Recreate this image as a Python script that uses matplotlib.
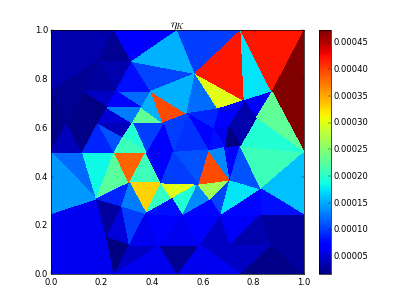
import matplotlib
matplotlib.use('Agg')
import matplotlib.pyplot as plt
from matplotlib.ticker import FormatStrFormatter

plt.style.use('classic')

names = ['c00','c10','c01','c11','l25','l50','l75','b25','b50','b75','r25','r50','t25','t50','t75',
         'B','C','E','F','G','H','I','J','K','L','M','S','T','U','V','W','X','Y','Z','AA',
         'AB','AC','AD','AE','AF','AG','AH','AI','AJ','AK','AL','AM','AN','AO','AP','AQ','AR',
         'N8','BA','BB','BD','BE','BF','BH','BI','BJ']
xs = [0,1,0,1,0,0,0,.25,.5,.75,1,1,.25,.5,.75,
      .187,.32,.125,.257,.395,.222,.358,.186,.322,.443,.063,.25,.375,.285,.125,.31,.18,.435,.375,.28,
      .58,.52,.707,.62,.63,.67,.685,.747,.478,.83,.83,.59,.71,.873,.43,.31,.22,
      .57,.537,.66,.763,.70,.64,.873,.81,.483]
ys = [0,0,1,1,.25,.5,.75,0,0,0,.245,.5,1,1,1,
      .872,.872,.75,.75,.75,.683,.683,.62,.62,.62,.62,.5,.5,.563,.5,.375,.31,.375,.25,.28,
      .37,.24,.387,.51,.305,.24,.525,.527,.31,.35,.245,.12,.12,.12,.12,.12,.15,
      .823,.658,.678,.712,.61,.597,.747,.64,.5]

tri_lower = ['c00 b25 AR','c00 l25 AR','l25 X AR','X AA AR','AA AQ AR','AR AQ b25','b25 AQ AP','b25 AP b50',
             'AP b50 AM','AA Z AQ','Z AP AQ','Z AC AP','AC AP AM','AC AG AM','AG AN AM','AM AN b75','b50 AM b75',
             'AG AL AN','AL AO AN','AN AO b75','b75 AO c10','AL r25 AO','r25 c10 AO']
val_lower = [6.2e-5,6.2e-5,6.2e-5,3.0e-5,5.3e-5,1.6e-5,4.3e-5,6.2e-5,
             2.4e-5,1.0e-4,6.2e-5,7.0e-5,6.2e-5,7.0e-5,4.3e-5,4.3e-5,6.2e-5,
             6.5e-5,3.5e-5,4.3e-5,2.0e-5,3.0e-5,3.0e-5]

tri_mid = ['l50 V X','l25 l50 X','V S X','S W X','S T W','T W Y','W Y Z','X W AA','W Z AA','Y AJ Z','Y AB AJ',
           'AJ AB AC','Z AC AJ','AB AF AC','AB AD AF','AF AD AG','AD AK AG','AG AK AL','AC AF AG','AB AD AE',
           'AE AD AH','AH AI AD','AI AD AK','AI AK r50','AK r50 r25','AK AL r25']
val_mid = [1.2e-4,1.42e-4,1.85e-4,2.25e-4,3.82e-4,2.1e-4,3.3e-4,9.0e-5,1.3e-4,2.05e-4,3.0e-4,
           1.95e-4,8.0e-5,1.35e-4,2.65e-4,1.05e-4,1.75e-4,7.5e-5,7.5e-5,3.95e-4,
           1.35e-4,7.0e-5,1.10e-4,2.10e-4,1.6e-4,8.0e-5]

tri_upper = ['c01 t25 B','c01 l75 B','l75 B E','t25 B C','B C F','B E F','E F H','E H J','E M J','l75 E M','l75 M l50',
             'l50 M V','M J V','J V S','J U S','H J K','J K U','F G I','C F G','F H I','H I K','I L K','G L I',
             'G BA L','C G N8','G N8 BA','N8 BB BA','C t25 t50','C t50 N8','t50 t75 N8','N8 BD BB','N8 t75 BD',
             't75 BH BD','t75 c11 BH','BH r50 c11','BD BH BI','BH BI r50','BI AI r50','BD BI BE','BB BD BE',
             'BI BE AI','BE AI AH','BF BE AH','BF AH AE','BB BE BF','BA BB BF','BA AE BF','BA BJ AE','BJ AE AB',
             'L BA BJ','L T BJ','T Y BJ','Y BJ AB','K L T','K T U','U S T']
val_upper = [3.5e-5,3.5e-5,2.4e-5,2.4e-5,3.5e-5,3.0e-5,4.3e-5,1.8e-5,2.0e-5,2.4e-5,2.0e-5,
             4.0e-5,2.0e-5,9.0e-5,1.1e-4,5.0e-5,4.0e-5,1.2e-4,8.0e-5,7.0e-5,1.3e-4,2.3e-4,1.53e-4,
             3.95e-4,1.05e-4,1.53e-4,1.23e-4,7.0e-5,1.53e-4,1.0e-4,3.0e-4,4.2e-4,
             1.75e-4,4.2e-4,4.73e-4,7.0e-5,2.3e-4,1.95e-4,3.5e-5,7.0e-5,
             3.5e-5,1.6e-5,6.0e-5,8.0e-5,7.0e-5,9.0e-5,7.0e-5,9.5e-5,1.1e-4,
             1.0e-4,6.6e-5,6.6e-5,1.0e-4,1.0e-4,1.95e-4,2.1e-4]

triangles = tri_lower + tri_mid + tri_upper
values = val_lower + val_mid + val_upper
tick_vals = [5e-5,1e-4,1.5e-4,2e-4,2.5e-4,3e-4,3.5e-4,4e-4,4.5e-4]

index = {n:i for i,n in enumerate(names)}
tris = [[index[p] for p in t.split()] for t in triangles]

fig = plt.figure(figsize=(8,6), dpi=50.875, facecolor='white')
ax = fig.add_axes([0.125,0.1,0.6225,0.8])
tpc = ax.tripcolor(xs, ys, tris, facecolors=values, cmap='jet', vmin=1.6e-5, vmax=4.73e-4)
ax.set_xlim(0,1); ax.set_ylim(0,1)
ax.set_xticks([0,.2,.4,.6,.8,1.0]); ax.set_yticks([0,.2,.4,.6,.8,1.0])
ax.set_title(r'$\eta_K$', fontsize=17)
cax = fig.add_axes([0.784,0.1,0.029,0.8])
cb = fig.colorbar(tpc, cax=cax, ticks=tick_vals, format=FormatStrFormatter('%.5f'))
fig.savefig('out.png', dpi=50.875, facecolor='white')
